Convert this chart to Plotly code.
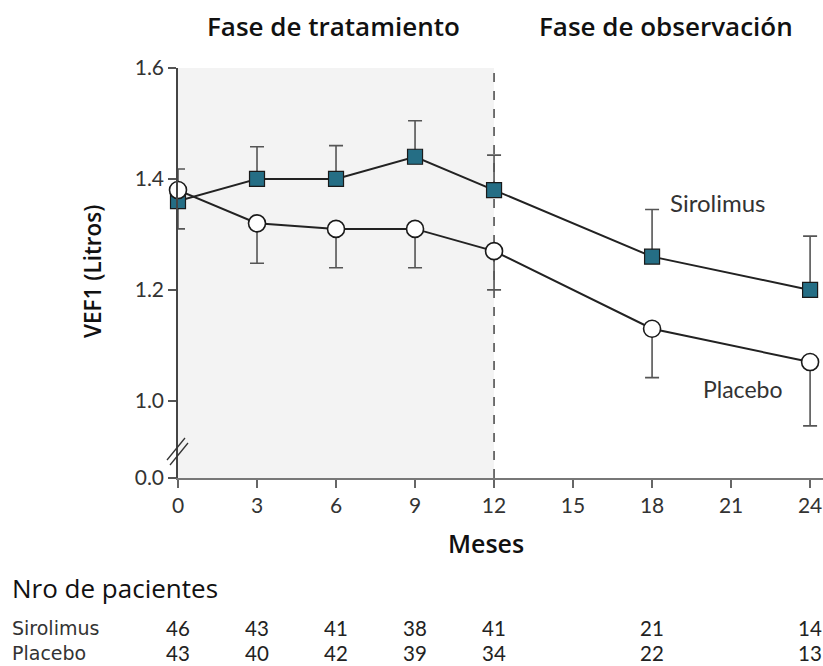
import plotly.graph_objects as go

months = [0, 3, 6, 9, 12, 18, 24]
sirolimus = [1.36, 1.40, 1.40, 1.44, 1.38, 1.26, 1.20]
sirolimus_err_up = [0.058, 0.058, 0.06, 0.065, 0.063, 0.085, 0.097]
sirolimus_err_down = [0.05, 0, 0, 0, 0, 0, 0]
placebo = [1.38, 1.32, 1.31, 1.31, 1.27, 1.13, 1.07]
placebo_err_down = [0, 0.072, 0.07, 0.07, 0.07, 0.088, 0.115]
n_sirolimus = [46, 43, 41, 38, 41, 21, 14]
n_placebo = [43, 40, 42, 39, 34, 22, 13]

y_break = 0.861  # axis position standing for 0.0
ytick_vals = [y_break, 1.0, 1.2, 1.4, 1.6]
ytick_text = ["0.0", "1.0", "1.2", "1.4", "1.6"]
xtick_vals = [0, 3, 6, 9, 12, 15, 18, 21, 24]

W, H = 823, 666
L, T, PB = 178, 68, 478  # plot area in pixels
pw, ph = W - L, PB - T


def px(xs):
    return (xs - L) / pw


def py(ys):
    return (PB - ys) / ph


TICKFONT = "Lato, 'Open Sans', sans-serif"
HEADFONT = "'Open Sans', 'DejaVu Sans', sans-serif"
ROWFONT = "'DejaVu Sans', sans-serif"
line_col = "#222222"
err_col = "#555555"

fig = go.Figure()

fig.add_trace(go.Scatter(
    x=months, y=sirolimus, mode="lines+markers", name="Sirolimus",
    line=dict(color=line_col, width=2),
    marker=dict(symbol="square", size=15, color="#256e85",
                line=dict(color="#1a1a1a", width=1.2)),
    error_y=dict(type="data", symmetric=False, array=sirolimus_err_up,
                 arrayminus=sirolimus_err_down, color=err_col,
                 thickness=1.6, width=7),
    cliponaxis=False, showlegend=False, hoverinfo="skip",
))
fig.add_trace(go.Scatter(
    x=months, y=placebo, mode="lines+markers", name="Placebo",
    line=dict(color=line_col, width=2),
    marker=dict(symbol="circle", size=17, color="white",
                line=dict(color="#1a1a1a", width=1.6)),
    error_y=dict(type="data", symmetric=False, array=[0] * len(months),
                 arrayminus=placebo_err_down, color=err_col,
                 thickness=1.6, width=7),
    cliponaxis=False, showlegend=False, hoverinfo="skip",
))

shapes = [
    dict(type="rect", xref="x", yref="y", x0=0, x1=12, y0=y_break, y1=1.6,
         fillcolor="#f3f3f3", line=dict(width=0), layer="below"),
    dict(type="line", xref="x", yref="y", x0=12, x1=12, y0=y_break, y1=1.6,
         line=dict(color="#444444", width=1.5, dash="dash"), layer="below"),
    # axis break marks
    dict(type="line", xref="paper", yref="paper",
         x0=px(167), x1=px(185), y0=py(460), y1=py(438),
         line=dict(color="#333333", width=1.3)),
    dict(type="line", xref="paper", yref="paper",
         x0=px(170), x1=px(188), y0=py(465), y1=py(443),
         line=dict(color="#333333", width=1.3)),
]


def ann(text, xs, ys, size, family, color, xanchor="center", angle=0,
        weight="normal"):
    return dict(text=text, xref="paper", yref="paper", x=px(xs), y=py(ys),
                xanchor=xanchor, yanchor="middle", showarrow=False,
                textangle=angle,
                font=dict(family=family, size=size, color=color,
                          weight=weight))


ROW1, ROW2 = 628, 653

annotations = [
    ann("Fase de tratamiento", 333, 26, 26, HEADFONT, "#111111", weight=600),
    ann("Fase de observación", 666, 26, 26, HEADFONT, "#111111", weight=600),
    ann("Meses", 486, 543, 25, HEADFONT, "#111111", weight=600),
    ann("VEF1 (Litros)", 92, 272, 22.5, HEADFONT, "#111111", angle=-90,
        weight=600),
    dict(text="Sirolimus", xref="x", yref="y", x=20.5, y=1.357,
         showarrow=False, font=dict(family=TICKFONT, size=24, color="#333333")),
    dict(text="Placebo", xref="x", yref="y", x=21.45, y=1.022,
         showarrow=False, font=dict(family=TICKFONT, size=23, color="#333333")),
    ann("Nro de pacientes", 10, 588, 26, HEADFONT, "#111111", xanchor="left"),
    ann("Sirolimus", 10, ROW1, 19, ROWFONT, "#333333", xanchor="left"),
    ann("Placebo", 10, ROW2, 19, ROWFONT, "#333333", xanchor="left"),
]
for m, a, b in zip(months, n_sirolimus, n_placebo):
    annotations.append(dict(text=str(a), xref="x", yref="paper", x=m, y=py(ROW1),
                            showarrow=False, yanchor="middle",
                            font=dict(family=TICKFONT, size=20.5, color="#222222")))
    annotations.append(dict(text=str(b), xref="x", yref="paper", x=m, y=py(ROW2),
                            showarrow=False, yanchor="middle",
                            font=dict(family=TICKFONT, size=20.5, color="#222222")))

fig.update_layout(
    width=W, height=H,
    margin=dict(l=L, r=0, t=T, b=H - PB, pad=0),
    paper_bgcolor="white", plot_bgcolor="white",
    shapes=shapes, annotations=annotations, hovermode=False,
    xaxis=dict(range=[0, 24.49], tickvals=xtick_vals, ticks="outside",
               ticklen=8, tickwidth=1.5, tickcolor="#666666",
               showline=True, linecolor="#777777", linewidth=1.5,
               showgrid=False, zeroline=False,
               tickfont=dict(family=TICKFONT, size=21, color="#333333")),
    yaxis=dict(range=[y_break, 1.6], tickvals=ytick_vals, ticktext=ytick_text,
               ticks="outside", ticklen=8, tickwidth=1.5, tickcolor="#555555",
               showline=True, linecolor="#444444", linewidth=1.5,
               showgrid=False, zeroline=False,
               tickfont=dict(family=TICKFONT, size=21, color="#333333")),
)

fig.write_html(
    "out.html",
    config={"displayModeBar": False},
    post_script="document.body.style.margin='0';"
                "document.body.style.overflow='hidden';",
)
